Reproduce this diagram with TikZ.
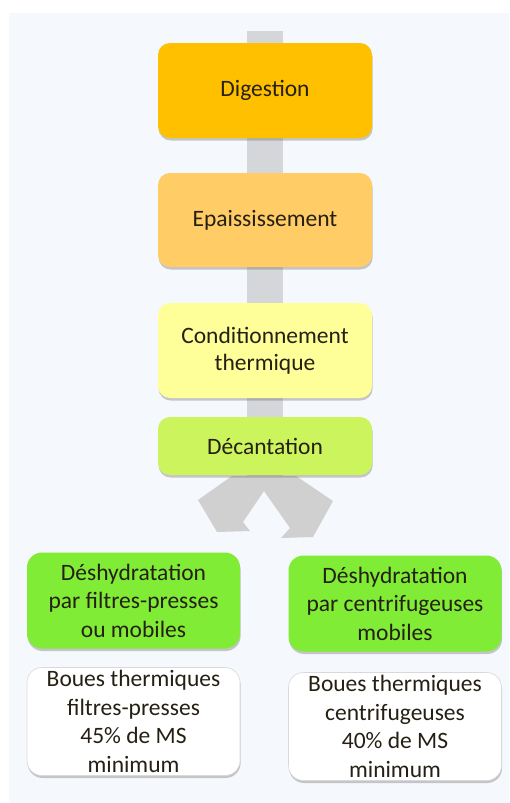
\documentclass[tikz,border=0pt]{standalone}
\usepackage{fontspec}
\setmainfont{Carlito}
\usetikzlibrary{shadows}
\definecolor{panel}{RGB}{245,248,252}
\definecolor{bargray}{RGB}{212,214,217}
\definecolor{arrgray}{RGB}{208,208,208}
\definecolor{cdig}{RGB}{255,192,0}
\definecolor{cepa}{RGB}{255,204,102}
\definecolor{ccond}{RGB}{255,255,153}
\definecolor{cdec}{RGB}{204,244,92}
\definecolor{cdes}{RGB}{128,236,54}
\definecolor{txt}{RGB}{38,32,20}
\tikzset{
  box/.style={rounded corners=12pt, inner sep=0pt, align=center, text=txt,
    font=\fontsize{23.5}{28.5}\selectfont,
    drop shadow={shadow xshift=0.6pt, shadow yshift=-2.5pt, opacity=0.35, fill=black!60}},
  topbox/.style={box, minimum width=214pt},
  botbox/.style={box, rounded corners=15pt, minimum width=213pt, minimum height=96pt},
  whitebox/.style={box, rounded corners=15pt, minimum width=213pt, minimum height=108pt,
    fill=white, draw=black!15, line width=0.6pt},
}
\begin{document}
\begin{tikzpicture}[x=1pt,y=-1pt]
\useasboundingbox (0,0) rectangle (509,803);
\fill[white] (0,0) rectangle (509,803);
\fill[panel] (9,13) rectangle (509,803);
% vertical bar
\fill[bargray] (247,31) rectangle (283,478);
% diverging arrows
\fill[arrgray] (232,476) -- (198,500) -- (217,532) -- (250,531) -- (243,522) -- (264,491) -- (264,476) -- cycle;
\fill[arrgray] (296,476) -- (333,501) -- (313,537) -- (281,538) -- (290,528) -- (264,491) -- (264,476) -- cycle;
% top chain
\node[topbox, fill=cdig, minimum height=95pt] (dig) at (265,90.5) {Digestion};
\node[topbox, fill=cepa, minimum height=94pt] (epa) at (265,220) {Epaississement};
\node[topbox, fill=ccond, minimum height=95pt, font=\fontsize{23.5}{27}\selectfont] (cond) at (265,350.5) {Conditionnement\\thermique};
\node[topbox, fill=cdec, minimum height=58pt] (dec) at (265,446) {Décantation};
% bottom
\node[botbox, fill=cdes] (desL) at (133.5,600.5) {Déshydratation\\par filtres-presses\\ou mobiles};
\node[botbox, fill=cdes] (desR) at (395,603.5) {Déshydratation\\par centrifugeuses\\mobiles};
\node[whitebox] (bL) at (133.5,721.5) {Boues thermiques\\filtres-presses\\45\% de MS\\minimum};
\node[whitebox] (bR) at (395,726.5) {Boues thermiques\\centrifugeuses\\40\% de MS\\minimum};
\end{tikzpicture}
\end{document}
